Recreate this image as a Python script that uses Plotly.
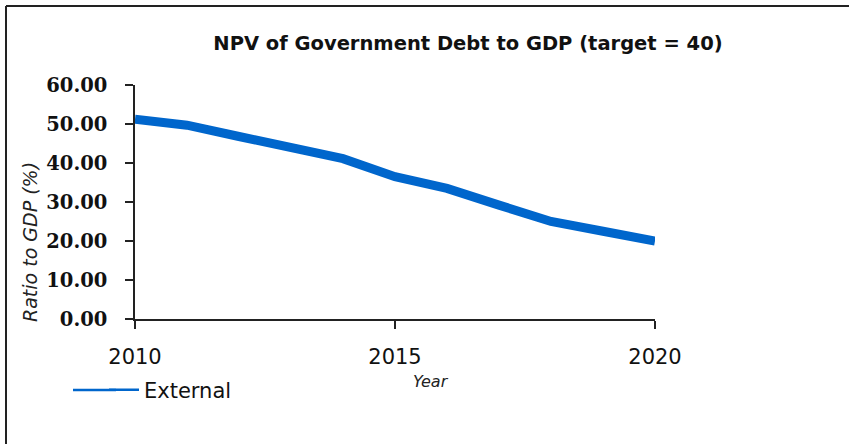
import plotly.graph_objects as go

years = [2010, 2011, 2012, 2013, 2014, 2015, 2016, 2017, 2018, 2019, 2020]
external = [51.2, 49.7, 46.8, 43.9, 41.1, 36.5, 33.5, 29.2, 25.0, 22.5, 20.0]
y_ticks = [0, 10, 20, 30, 40, 50, 60]
x_ticks = [2010, 2015, 2020]

W, H = 849, 444
L, R, T, B = 135, 194, 85, 125
pw, ph = W - L - R, H - T - B

def px(x):
    return (x - L) / pw

def py(y):
    return (H - B - y) / ph

BLUE = "#0066cc"
INK = "#111111"

fig = go.Figure()
fig.add_trace(go.Scatter(x=years, y=external, mode="lines", showlegend=False,
                         line=dict(color=BLUE, width=9), hoverinfo="skip"))
fig.add_trace(go.Scatter(x=[None], y=[None], mode="lines", name="External",
                         line=dict(color=BLUE, width=2.5)))

fig.update_layout(
    width=W, height=H,
    margin=dict(l=L, r=R, t=T, b=B),
    paper_bgcolor="white", plot_bgcolor="white",
    title=dict(text="NPV of Government Debt to GDP (target = 40)",
               xref="paper", x=px(468), xanchor="center",
               yref="container", y=1 - 43 / H, yanchor="middle",
               font=dict(family="DejaVu Sans", size=19.5, color=INK, weight="bold")),
    xaxis=dict(range=[2010, 2020], tickvals=x_ticks, ticktext=[str(v) for v in x_ticks],
               showgrid=False, zeroline=False, showline=True, linecolor="#222", linewidth=1.5,
               ticks="outside", ticklen=8, tickcolor="#222", tickwidth=1.5,
               ticklabelstandoff=10,
               tickfont=dict(family="DejaVu Sans", size=21, color=INK)),
    yaxis=dict(range=[0, 60], tickvals=y_ticks, ticktext=[f"{v:.2f}" for v in y_ticks],
               showgrid=False, zeroline=False, showline=True, linecolor="#222", linewidth=1.5,
               ticks="outside", ticklen=8, tickcolor="#222", tickwidth=1.5,
               ticklabelstandoff=14,
               tickfont=dict(family="DejaVu Serif", size=19.5, color=INK, weight="bold")),
    legend=dict(x=px(104), xanchor="left", y=py(390), yanchor="middle",
                bgcolor="rgba(0,0,0,0)", borderwidth=0,
                font=dict(family="DejaVu Sans", size=21, color=INK)),
    showlegend=True,
)

fig.add_annotation(text="Year", xref="paper", yref="paper", x=px(431), y=py(381),
                   showarrow=False, xanchor="center", yanchor="middle",
                   font=dict(family="DejaVu Sans", size=16, color="#222", style="italic"))
fig.add_annotation(text="Ratio to GDP (%)", xref="paper", yref="paper", x=px(30), y=py(242),
                   showarrow=False, xanchor="center", yanchor="middle", textangle=-90,
                   font=dict(family="DejaVu Sans", size=19, color="#222", style="italic"))

# outer frame (left and top edges)
fig.add_shape(type="line", xref="paper", yref="paper", x0=px(6), y0=py(6), x1=px(849), y1=py(6),
              line=dict(color="#222", width=2))
fig.add_shape(type="line", xref="paper", yref="paper", x0=px(6), y0=py(6), x1=px(6), y1=py(444),
              line=dict(color="#222", width=2))
# extend the legend sample line leftwards to match the long key of the original
fig.add_shape(type="line", xref="paper", yref="paper", x0=px(73), y0=py(390), x1=px(116), y1=py(390),
              line=dict(color=BLUE, width=2.5))

fig.write_html("out.html", config={"displayModeBar": False},
               post_script="document.body.style.margin='0px';")
